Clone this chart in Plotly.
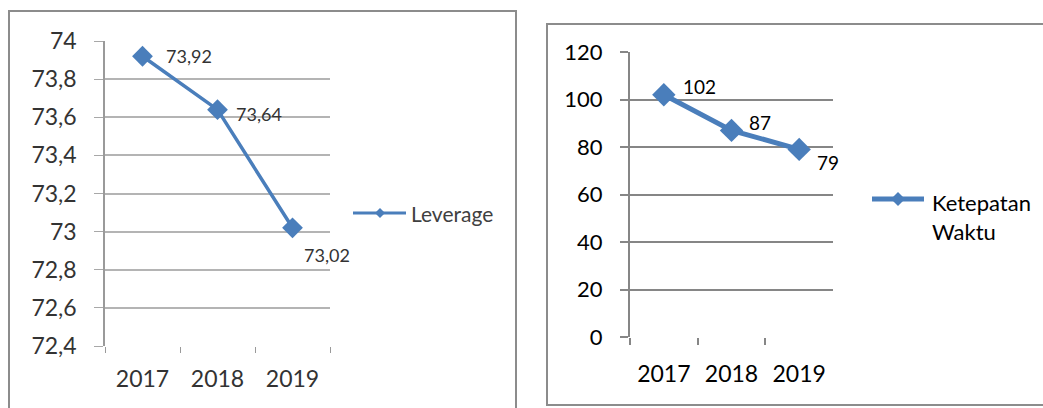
import plotly.graph_objects as go

# Data
years = ["2017", "2018", "2019"]
leverage = [73.92, 73.64, 73.02]
ketepatan = [102, 87, 79]

lev_ticks = [72.4, 72.6, 72.8, 73.0, 73.2, 73.4, 73.6, 73.8, 74.0]
lev_ticktext = ["72,4", "72,6", "72,8", "73", "73,2", "73,4", "73,6", "73,8", "74"]
kt_ticks = [0, 20, 40, 60, 80, 100, 120]

W, H = 1043, 408
BLUE = "#4A7EBB"
FONT = "Lato"


def fx(px):
    return px / W


def fy(py):
    return 1 - py / H


def fmt_id(v):
    return f"{v:.2f}".replace(".", ",")


fig = go.Figure()

# Left chart: Leverage
fig.add_trace(go.Scatter(
    x=years, y=leverage, mode="lines+markers",
    line=dict(color=BLUE, width=3.5),
    marker=dict(symbol="diamond", size=16, color=BLUE),
    xaxis="x", yaxis="y", showlegend=False, hoverinfo="skip",
))

# Right chart: Ketepatan Waktu
fig.add_trace(go.Scatter(
    x=years, y=ketepatan, mode="lines+markers",
    line=dict(color=BLUE, width=5),
    marker=dict(symbol="diamond", size=18, color=BLUE),
    xaxis="x2", yaxis="y2", showlegend=False, hoverinfo="skip",
))

left_font = dict(family=FONT, size=23, color="#333333")
right_font = dict(family=FONT, size=22, color="#000000")

fig.update_layout(
    width=W, height=H,
    margin=dict(l=0, r=0, t=0, b=0, pad=0, autoexpand=False),
    paper_bgcolor="white", plot_bgcolor="white",
    xaxis=dict(
        domain=[fx(105), fx(330)], type="category", range=[-0.5, 2.5],
        tickson="boundaries", ticks="outside", ticklen=6, tickcolor="#9a9a9a",
        showline=False, showgrid=False, zeroline=False, automargin=False,
        tickfont=dict(family=FONT, size=23, color="#333333"),
        ticklabelstandoff=17, anchor="y", fixedrange=True,
    ),
    yaxis=dict(
        domain=[fy(346), fy(41)], range=[72.4, 74.0],
        tickvals=lev_ticks, ticktext=lev_ticktext,
        ticks="outside", ticklen=9, tickcolor="#a8a8a8",
        showgrid=True, gridcolor="#b4b4b4", gridwidth=1.5,
        showline=True, linecolor="#9a9a9a", linewidth=1.5,
        zeroline=False, tickfont=left_font, automargin=False,
        ticklabelstandoff=13, anchor="x", fixedrange=True,
    ),
    xaxis2=dict(
        domain=[fx(630), fx(833)], type="category", range=[-0.5, 2.5],
        tickson="boundaries", ticks="outside", ticklen=7, tickcolor="#868686",
        tickwidth=2, showline=False, showgrid=False, zeroline=False,
        automargin=False,
        tickfont=dict(family=FONT, size=23, color="#000000"),
        ticklabelstandoff=21, anchor="y2", fixedrange=True,
    ),
    yaxis2=dict(
        domain=[fy(337), fy(52)], range=[0, 120],
        tickvals=kt_ticks,
        ticks="outside", ticklen=8, tickcolor="#868686", tickwidth=2,
        showgrid=True, gridcolor="#868686", gridwidth=2,
        showline=True, linecolor="#868686", linewidth=2,
        zeroline=False, tickfont=right_font, automargin=False,
        ticklabelstandoff=13, anchor="x2", fixedrange=True,
    ),
)

# Panel borders
fig.add_shape(type="rect", xref="paper", yref="paper",
              x0=fx(9), x1=fx(516), y0=fy(412), y1=fy(11),
              line=dict(color="#8c8c8c", width=2), layer="below")
fig.add_shape(type="rect", xref="paper", yref="paper",
              x0=fx(547), x1=fx(1045), y0=fy(405), y1=fy(24),
              line=dict(color="#8c8c8c", width=2), layer="below")

# Data labels (left); category axes take the category index as position
lev_shift = [(21, 0), (16, -4), (9, -27)]
for i, (v, (dx, dy)) in enumerate(zip(leverage, lev_shift)):
    fig.add_annotation(x=i, y=v, xref="x", yref="y", text=fmt_id(v),
                       showarrow=False, xanchor="left", yanchor="middle",
                       xshift=dx, yshift=dy,
                       font=dict(family=FONT, size=18, color="#333333"))

# Data labels (right)
kt_shift = [(17, 8), (15, 8), (16, -13)]
for i, (v, (dx, dy)) in enumerate(zip(ketepatan, kt_shift)):
    fig.add_annotation(x=i, y=v, xref="x2", yref="y2", text=str(v),
                       showarrow=False, xanchor="left", yanchor="middle",
                       xshift=dx, yshift=dy,
                       font=dict(family=FONT, size=19, color="#000000"))

# Legend (left)
fig.add_shape(type="line", xref="paper", yref="paper",
              x0=fx(353), x1=fx(406), y0=fy(213), y1=fy(213),
              line=dict(color=BLUE, width=3))
fig.add_shape(type="path", xref="paper", yref="paper",
              path=f"M {fx(375)},{fy(213)} L {fx(380)},{fy(208)} L {fx(385)},{fy(213)} L {fx(380)},{fy(218)} Z",
              fillcolor=BLUE, line=dict(color=BLUE, width=0))
fig.add_annotation(x=fx(409), y=fy(213), xref="paper", yref="paper",
                   text="Leverage", showarrow=False, xanchor="left", yanchor="middle",
                   font=dict(family=FONT, size=21, color="#404040"))

# Legend (right)
fig.add_shape(type="line", xref="paper", yref="paper",
              x0=fx(872), x1=fx(924), y0=fy(199), y1=fy(199),
              line=dict(color=BLUE, width=5))
fig.add_shape(type="path", xref="paper", yref="paper",
              path=f"M {fx(891)},{fy(199)} L {fx(898)},{fy(192)} L {fx(905)},{fy(199)} L {fx(898)},{fy(206)} Z",
              fillcolor=BLUE, line=dict(color=BLUE, width=0))
fig.add_annotation(x=fx(930), y=fy(217), xref="paper", yref="paper",
                   text="Ketepatan<br>Waktu", showarrow=False, xanchor="left", yanchor="middle",
                   align="left",
                   font=dict(family=FONT, size=22, color="#000000"))

fig.write_html("out.html")
